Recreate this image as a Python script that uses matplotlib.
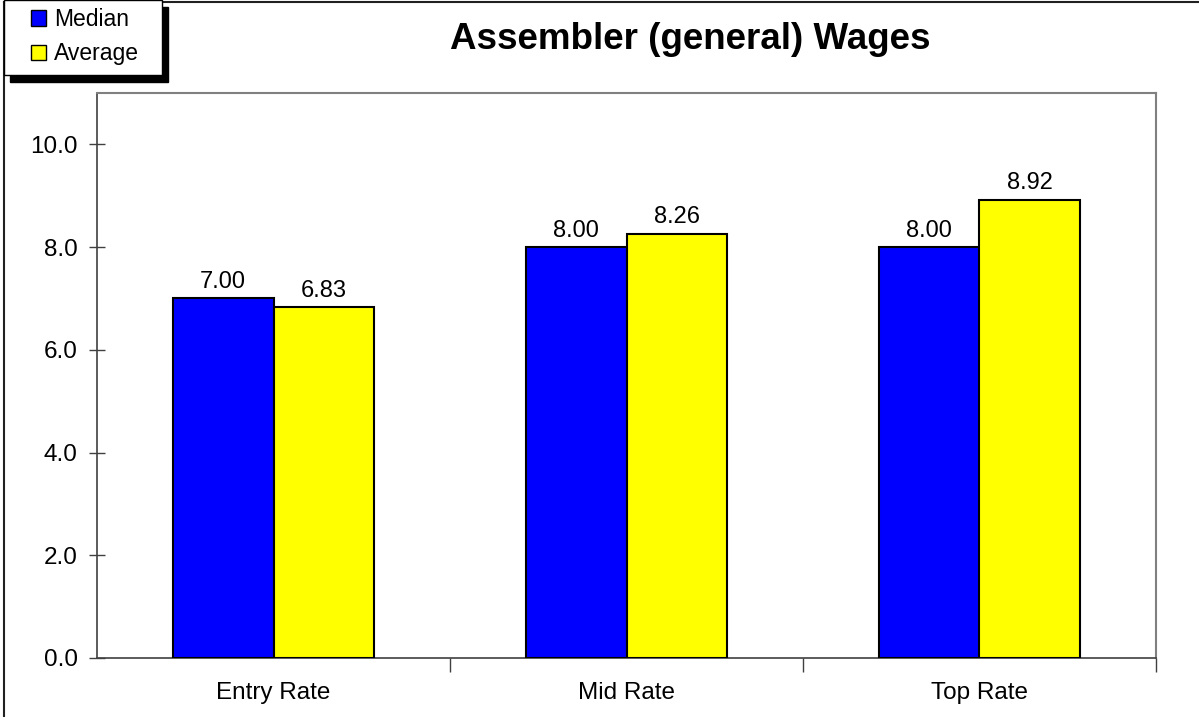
import numpy as np
import matplotlib.pyplot as plt
from matplotlib.patches import Rectangle, Patch
from matplotlib.lines import Line2D

plt.rcParams['font.family'] = ['Liberation Sans', 'DejaVu Sans']

categories = ["Entry Rate", "Mid Rate", "Top Rate"]
median = [7.00, 8.00, 8.00]
average = [6.83, 8.26, 8.92]
y_ticks = [0, 2, 4, 6, 8, 10]

fig = plt.figure(figsize=(11.99, 7.17), dpi=100)
ax = fig.add_axes([97 / 1199, 1 - 658 / 717, (1156 - 97) / 1199, (658 - 93) / 717])

x = np.arange(len(categories))
w = 0.286
b1 = ax.bar(x - w / 2, median, w, color="#0000FF", edgecolor="black", linewidth=1.5, label="Median", zorder=3)
b2 = ax.bar(x + w / 2, average, w, color="#FFFF00", edgecolor="black", linewidth=1.5, label="Average", zorder=3)

for bars in (b1, b2):
    ax.bar_label(bars, fmt="%.2f", padding=4, fontsize=17)

ax.set_xlim(-0.5, 2.5)
ax.set_ylim(0, 11)
ax.set_yticks(y_ticks)
ax.set_yticklabels([f"{v:.1f}" for v in y_ticks], fontsize=17.5)
ax.tick_params(axis="y", direction="inout", length=12, width=1, color="#404040", pad=8)

ax.set_xticks(x)
ax.set_xticklabels(categories, fontsize=17.5)
ax.set_xticks([0.5, 1.5, 2.5], minor=True)
ax.tick_params(axis="x", which="major", length=0, pad=17)
ax.tick_params(axis="x", which="minor", direction="out", length=10, width=1, color="#404040")

for side in ("top", "right"):
    ax.spines[side].set_color("#808080")
    ax.spines[side].set_linewidth(1.5)
for side in ("left", "bottom"):
    ax.spines[side].set_color("#404040")
    ax.spines[side].set_linewidth(1.2)

fig.text(690 / 1199, 1 - 49 / 717, "Assembler (general) Wages", fontsize=26.5, fontweight="bold",
         ha="center", va="baseline")

# outer chart frame (left and top edges visible)
fig.add_artist(Line2D([4 / 1199, 4 / 1199], [0, 1 - 2 / 717], transform=fig.transFigure, color="#202020", lw=1.5))
fig.add_artist(Line2D([4 / 1199, 1], [1 - 2 / 717, 1 - 2 / 717], transform=fig.transFigure, color="#202020", lw=1.5))

# legend box with hard shadow
fig.add_artist(Rectangle((10 / 1199, 1 - 82 / 717), 158 / 1199, 75 / 717, transform=fig.transFigure,
                         facecolor="black", edgecolor="black", zorder=4))
fig.add_artist(Rectangle((4 / 1199, 1 - 75 / 717), 158 / 1199, 75 / 717, transform=fig.transFigure,
                         facecolor="white", edgecolor="black", lw=1, zorder=5))
handles = [Patch(facecolor="#0000FF", edgecolor="black"), Patch(facecolor="#FFFF00", edgecolor="black")]
leg = fig.legend(handles, ["Median", "Average"], loc="upper left", bbox_to_anchor=(31 / 1199, 1 - 8 / 717),
                 frameon=False, fontsize=16.5, handlelength=0.65, handleheight=0.65, handletextpad=0.35,
                 labelspacing=0.5, borderpad=0, borderaxespad=0)
leg.set_zorder(6)

plt.savefig("out.png", dpi=100)
